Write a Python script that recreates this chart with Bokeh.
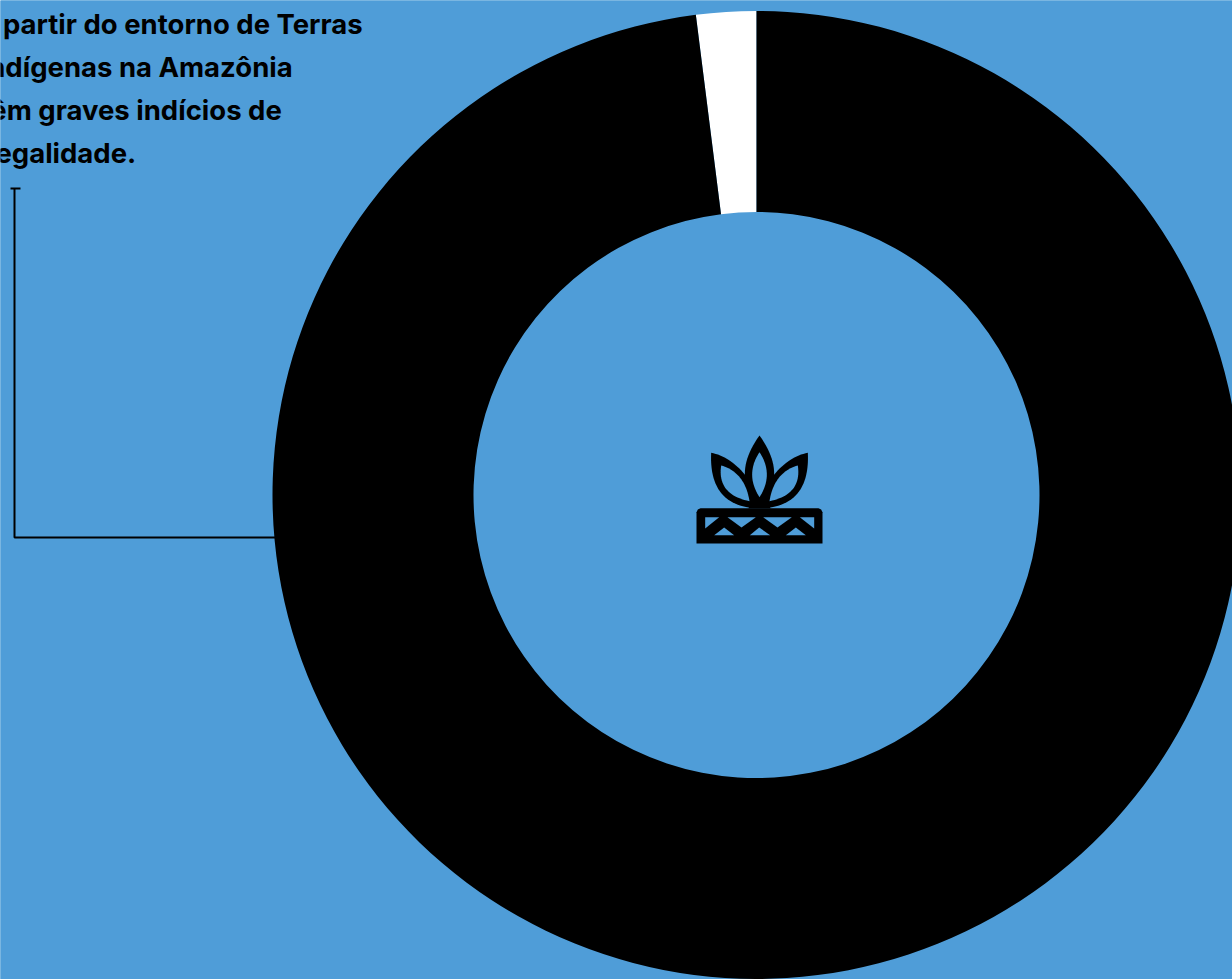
import math
from bokeh.embed import file_html
from bokeh.plotting import figure
from bokeh.resources import INLINE
from bokeh.core.properties import value

# Share of the deforested area, in percent
shares = [2, 98]
share_colors = ["#ffffff", "#000000"]
caption_lines = [
    "a partir do entorno de Terras",
    "Indígenas na Amazônia",
    "têm graves indícios de",
    "ilegalidade.",
]

BG = "#4f9dd8"
CX, CY = 756, 494.5
R_OUT, R_IN = 484, 283

p = figure(width=1232, height=979, x_range=(0, 1232), y_range=(979, 0),
           output_backend="svg", toolbar_location=None, min_border=0,
           background_fill_color=BG, border_fill_color=BG, outline_line_color=None)
p.axis.visible = False
p.grid.visible = False

# Full-bleed backdrop so the colour reaches every edge of the canvas
p.quad(left=[-5], right=[1237], top=[-5], bottom=[984], fill_color=BG, line_color=None)

# Ring, starting at twelve o'clock
start = 0.0
for share, color in zip(shares, share_colors):
    sweep = share / sum(shares) * 2 * math.pi
    p.annular_wedge([CX], [CY], inner_radius=R_IN, outer_radius=R_OUT,
                    start_angle=math.pi / 2 + start, end_angle=math.pi / 2 + start + sweep,
                    direction="anticlock", fill_color=color, line_color=None)
    start += sweep

# Caption, running off the left edge
p.text([-20] * 4, [23, 66, 109, 152], text=caption_lines, text_font=value("Inter"),
       text_font_style="bold", text_font_size="27.5px", text_color="#000000",
       text_baseline="alphabetic", text_align="left")

# Leader from the ring to the caption
p.line([275, 14, 14], [537, 537, 188], line_color="#000000", line_width=2)
p.line([10, 20], [188, 188], line_color="#000000", line_width=2)


# Icon: plant above a patterned band
def curve(a, b, c, n=24):
    pts = []
    for i in range(n + 1):
        t = i / n
        pts.append(((1 - t) ** 2 * a[0] + 2 * t * (1 - t) * b[0] + t * t * c[0],
                    (1 - t) ** 2 * a[1] + 2 * t * (1 - t) * b[1] + t * t * c[1]))
    return pts


def leaf_shape(tip, c1, end1, end2, c2, color):
    pts = curve(tip, c1, end1) + curve(end2, c2, tip)
    xs = [705 + q[0] / 3 for q in pts]
    ys = [430 + q[1] / 3 for q in pts]
    p.patch(xs, ys, fill_color=color, line_color=None)


def mirrored(q):
    return (324 - q[0], q[1])


side_outer = [(17, 67), (100, 82), (162, 200), (135, 232), (10, 215)]
side_inner = [(47, 105), (118, 125), (132, 212), (132, 212), (34, 192)]
for shape, color in ((side_outer, "#000000"), (side_inner, BG)):
    leaf_shape(*shape, color)
    leaf_shape(*[mirrored(q) for q in shape], color)

leaf_shape((162, 15), (74, 136), (162, 232), (162, 232), (250, 136), "#000000")
leaf_shape((162, 65), (118, 132), (162, 200), (162, 200), (206, 132), BG)

# Solid join where the three leaves meet the band
p.patch([705 + x / 3 for x in (135, 189, 195, 129)],
        [430 + y / 3 for y in (212, 212, 234, 234)],
        fill_color="#000000", line_color=None)


def band_poly(points, color):
    xs = [692 + q[0] / 3 for q in points]
    ys = [503 + q[1] / 3 for q in points]
    p.patch(xs, ys, fill_color=color, line_color=None)


band_poly([(12, 26), (16, 18), (24, 14), (378, 14), (386, 18), (390, 26), (390, 120), (12, 120)], "#000000")
for hole in [
    [(38, 41), (80, 41), (38, 75)],
    [(105, 41), (190, 41), (147, 72)],
    [(212, 41), (298, 41), (255, 72)],
    [(322, 41), (365, 41), (365, 75)],
    [(65, 95), (95, 72), (125, 95)],
    [(172, 95), (200, 72), (233, 95)],
    [(280, 95), (310, 72), (340, 95)],
]:
    band_poly(hole, BG)

open("out.html", "w").write(file_html(p, INLINE))
